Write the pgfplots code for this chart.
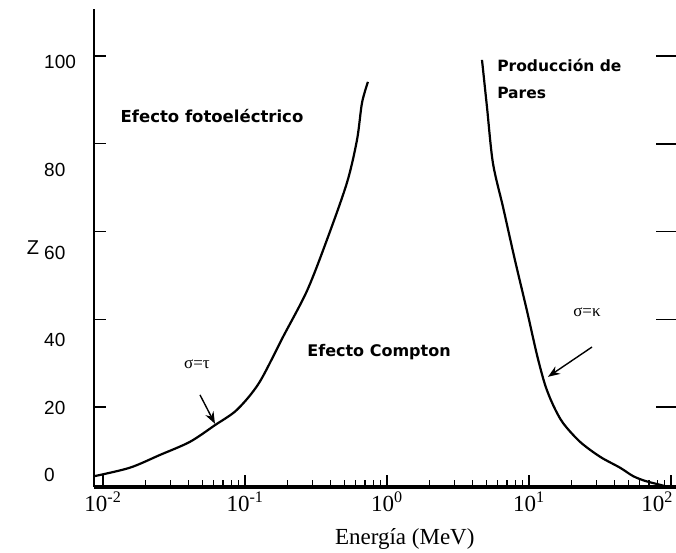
\documentclass[border=0pt]{standalone}
\usepackage{fontspec}
\setmainfont{Liberation Serif}
\newfontfamily\lsans{Liberation Sans}
\newfontfamily\djv{DejaVu Sans}
\usepackage{pgfplots}
\pgfplotsset{compat=1.18}
\usetikzlibrary{arrows.meta}

\begin{document}
\begin{tikzpicture}
\begin{axis}[name=ax, scale only axis, width=582pt, height=478pt,
 xmode=log, xmin=0.00865, xmax=108.4, ymin=1.8, ymax=110.7,
 axis x line=bottom, axis y line=left, axis line style={-},
 x axis line style={line width=3.5pt}, y axis line style={line width=2.3pt},
 tick align=inside,
 tick style={line width=1.4pt, black},
 major tick length=12pt, minor tick length=7pt,
 xtick={0.01,0.1,1,10},
 xticklabels={10\textsuperscript{-2},10\textsuperscript{-1},10\textsuperscript{0},10\textsuperscript{1}},
 extra x ticks={100},
 extra x tick labels={10\textsuperscript{2}},
 extra x tick style={xticklabel style={xshift=-14pt}},
 minor xtick={0.02,0.03,0.04,0.05,0.06,0.07,0.08,0.09,0.2,0.3,0.4,0.5,0.6,0.7,0.8,0.9,2,3,4,5,6,7,8,9,20,30,40,50,60,70,80,90},
 xticklabel style={font=\fontsize{23}{27}\selectfont, yshift=-1pt},
 ytick={20,40,60,80,100}, yticklabels={},
 extra y ticks={4.6,19.8,35.3,55.1,74.0,98.6},
 extra y tick labels={0,20,40,60,80,100},
 extra y tick style={major tick length=0pt},
 yticklabel style={font=\lsans\fontsize{19}{22}\selectfont, anchor=west, inner sep=0pt, xshift=-50pt},
 xlabel={Energía (MeV)},
 every axis x label/.style={at={(axis description cs:0.534,0)}, anchor=center, yshift=-52pt, font=\fontsize{23}{27}\selectfont},
 clip=false,
]
\addplot[black, line width=2.2pt, smooth, tension=0.5] coordinates {
 (0.00879,4.3) (0.01549,6.2) (0.02518,9.1) (0.04102,12.1) (0.06152,15.9)
 (0.08790,19.4) (0.1256,25.5) (0.1854,36.0) (0.2735,46.5)
 (0.3776,58.1) (0.5224,71.1) (0.6152,80.9) (0.6668,89.3) (0.7345,94.1)
};
\addplot[black, line width=2.2pt, smooth, tension=0.5] coordinates {
 (4.667,99.1) (5.058,88.4) (5.572,75.6) (6.561,65.6) (7.962,53.5)
 (9.683,41.9) (11.38,31.9) (12.97,25.1) (14.77,20.5)
 (17.34,16.4) (22.86,12.1) (31.62,8.7) (43.75,6.2) (53.95,4.3)
 (65.6,3.2) (83.7,2.3) (90.78,2.0)
};
\node[font=\djv\bfseries\fontsize{16.5}{19}\selectfont, inner sep=0pt] at (axis cs:0.0586,86.3) {Efecto fotoeléctrico};
\node[font=\djv\bfseries\fontsize{15.5}{19}\selectfont, inner sep=0pt, anchor=west] at (axis cs:5.96,97.9) {Producción de};
\node[font=\djv\bfseries\fontsize{15.5}{19}\selectfont, inner sep=0pt, anchor=west] at (axis cs:5.96,91.6) {Pares};
\node[font=\djv\bfseries\fontsize{16}{19}\selectfont, inner sep=0pt] at (axis cs:0.879,32.6) {Efecto Compton};
\node[font=\fontsize{17}{19}\selectfont, inner sep=0pt] at (axis cs:0.0459,29.8) {σ=τ};
\node[font=\fontsize{17}{19}\selectfont, inner sep=0pt] at (axis cs:25.6,41.7) {σ=κ};
\draw[line width=1.4pt, -{Stealth[length=12pt,width=9pt]}] (axis cs:0.0482,22.8) -- (axis cs:0.0615,16.2);
\draw[line width=1.4pt, -{Stealth[length=12pt,width=9pt]}] (axis cs:27.8,33.7) -- (axis cs:13.6,26.9);
\node[font=\lsans\fontsize{20}{24}\selectfont, inner sep=0pt] at ([xshift=-61pt]axis cs:0.00865,56.3) {Z};
\end{axis}
\begin{axis}[scale only axis, width=582pt, height=478pt,
 xmode=log, xmin=0.00865, xmax=108.4, ymin=1.8, ymax=110.7,
 axis x line=none, axis y line=right, y axis line style={draw=none},
 ytick={20,40,60,80,100}, yticklabels={},
 tick align=inside, major tick length=20pt,
 tick style={line width=1.6pt, black},
]
\end{axis}
\pgfresetboundingbox
\path ([shift={(-94pt,-65pt)}]ax.south west) rectangle ([shift={(0pt,9pt)}]ax.north east);
\end{tikzpicture}
\end{document}
